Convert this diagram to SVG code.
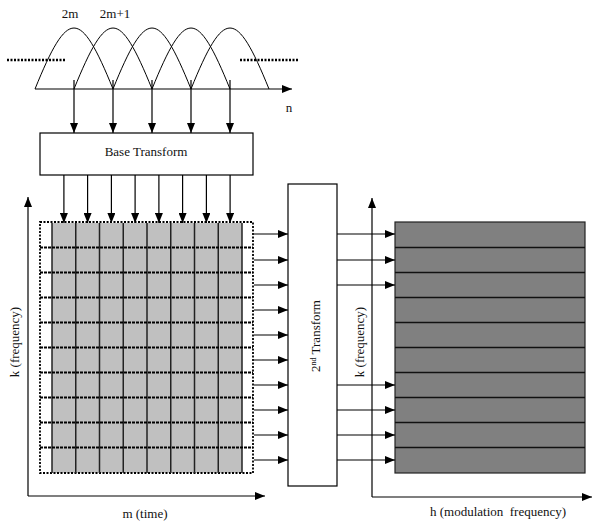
<svg xmlns="http://www.w3.org/2000/svg" width="594" height="521" viewBox="0 0 594 521">
<defs>
<marker id="ah" markerUnits="userSpaceOnUse" markerWidth="10" markerHeight="8" refX="10" refY="4" orient="auto">
<path d="M0,0 L10,4 L0,8 z" fill="#000"/>
</marker>
<style>
.t{font-family:"Liberation Serif","Times New Roman",serif;font-size:13px;fill:#111}
.ln{stroke:#000;stroke-width:1.2;fill:none}
.ar{stroke:#000;stroke-width:1.2;fill:none;marker-end:url(#ah)}
.arch{stroke:#000;stroke-width:1;fill:none}
.dot{stroke:#000;stroke-width:2.4;stroke-dasharray:2 1.5;fill:none}
.hl{stroke:#000;stroke-width:2.2;stroke-dasharray:3 1;fill:none}
.vl{stroke:#222;stroke-width:1.5}
.dl{stroke:#111;stroke-width:1.6}
</style>
</defs>
<rect width="594" height="521" fill="#fff"/>

<g id="signal">
<path class="arch" d="M35,89 C68,7.7 80,7.7 113,89"/>
<path class="arch" d="M74,89 C107,7.7 119,7.7 152,89"/>
<path class="arch" d="M113,89 C146,7.7 158,7.7 191,89"/>
<path class="arch" d="M152,89 C185,7.7 197,7.7 230,89"/>
<path class="arch" d="M191,89 C224,7.7 236,7.7 269,89"/>
<line class="dot" x1="7" y1="60" x2="66" y2="60"/>
<line class="dot" x1="240" y1="60" x2="298" y2="60"/>
<line class="ar" x1="35" y1="89" x2="292" y2="89"/>
<text class="t" x="70" y="18" text-anchor="middle">2m</text>
<text class="t" x="115" y="18" text-anchor="middle">2m+1</text>
<text class="t" x="289" y="112" text-anchor="middle">n</text>
</g>

<g id="base-transform">
<rect x="40" y="133" width="213" height="42" fill="#fff" stroke="#000" stroke-width="1.2"/>
<text class="t" x="146" y="156" text-anchor="middle">Base Transform</text>
</g>

<g id="grid">
<rect x="52" y="223" width="190" height="250" fill="#c0c0c0"/>
<rect x="40" y="222" width="213" height="251" fill="none" stroke="#000" stroke-width="1.8" stroke-dasharray="2 1.5"/>
<line class="vl" x1="52" y1="223" x2="52" y2="473"/>
<line class="vl" x1="75.75" y1="223" x2="75.75" y2="473"/>
<line class="vl" x1="99.5" y1="223" x2="99.5" y2="473"/>
<line class="vl" x1="123.25" y1="223" x2="123.25" y2="473"/>
<line class="vl" x1="147" y1="223" x2="147" y2="473"/>
<line class="vl" x1="170.75" y1="223" x2="170.75" y2="473"/>
<line class="vl" x1="194.5" y1="223" x2="194.5" y2="473"/>
<line class="vl" x1="218.25" y1="223" x2="218.25" y2="473"/>
<line class="vl" x1="242" y1="223" x2="242" y2="473"/>
<line class="hl" x1="40" y1="247.5" x2="253" y2="247.5"/>
<line class="hl" x1="40" y1="272.5" x2="253" y2="272.5"/>
<line class="hl" x1="40" y1="297.5" x2="253" y2="297.5"/>
<line class="hl" x1="40" y1="322.5" x2="253" y2="322.5"/>
<line class="hl" x1="40" y1="347.5" x2="253" y2="347.5"/>
<line class="hl" x1="40" y1="372.5" x2="253" y2="372.5"/>
<line class="hl" x1="40" y1="397.5" x2="253" y2="397.5"/>
<line class="hl" x1="40" y1="422.5" x2="253" y2="422.5"/>
<line class="hl" x1="40" y1="447.5" x2="253" y2="447.5"/>
</g>

<g id="axes-left">
<line class="ar" x1="28" y1="496" x2="28" y2="197"/>
<line class="ar" x1="28" y1="496" x2="265" y2="496"/>
<text class="t" x="145" y="518" text-anchor="middle">m (time)</text>
<text class="t" transform="translate(19,342) rotate(-90)" text-anchor="middle">k (frequency)</text>
</g>

<g id="second-transform">
<rect x="288" y="184" width="49" height="302" fill="#fff" stroke="#000" stroke-width="1.2"/>
<text class="t" transform="translate(320,336) rotate(-90)" text-anchor="middle">2<tspan font-size="8" dy="-4">nd</tspan><tspan dy="4"> Transform</tspan></text>
</g>

<g id="output">
<rect x="395" y="222" width="190" height="251" fill="#808080" stroke="#222" stroke-width="1.2"/>
<line class="dl" x1="395" y1="247.5" x2="585" y2="247.5"/>
<line class="dl" x1="395" y1="272.5" x2="585" y2="272.5"/>
<line class="dl" x1="395" y1="297.5" x2="585" y2="297.5"/>
<line class="dl" x1="395" y1="322.5" x2="585" y2="322.5"/>
<line class="dl" x1="395" y1="347.5" x2="585" y2="347.5"/>
<line class="dl" x1="395" y1="372.5" x2="585" y2="372.5"/>
<line class="dl" x1="395" y1="397.5" x2="585" y2="397.5"/>
<line class="dl" x1="395" y1="422.5" x2="585" y2="422.5"/>
<line class="dl" x1="395" y1="447.5" x2="585" y2="447.5"/>
</g>

<g id="axes-right">
<line class="ar" x1="372" y1="497" x2="372" y2="198"/>
<line class="ar" x1="372" y1="497" x2="592" y2="497"/>
<text class="t" x="498" y="516" text-anchor="middle" xml:space="preserve">h (modulation  frequency)</text>
<text class="t" transform="translate(364,342) rotate(-90)" text-anchor="middle">k (frequency)</text>
</g>

<g id="connectors">
<line class="ar" x1="74" y1="80" x2="74" y2="133"/>
<line class="ar" x1="113" y1="80" x2="113" y2="133"/>
<line class="ar" x1="152" y1="80" x2="152" y2="133"/>
<line class="ar" x1="191" y1="80" x2="191" y2="133"/>
<line class="ar" x1="230" y1="80" x2="230" y2="133"/>

<line class="ar" x1="63.9" y1="175" x2="63.9" y2="223"/>
<line class="ar" x1="87.6" y1="175" x2="87.6" y2="223"/>
<line class="ar" x1="111.4" y1="175" x2="111.4" y2="223"/>
<line class="ar" x1="135.1" y1="175" x2="135.1" y2="223"/>
<line class="ar" x1="158.9" y1="175" x2="158.9" y2="223"/>
<line class="ar" x1="182.6" y1="175" x2="182.6" y2="223"/>
<line class="ar" x1="206.4" y1="175" x2="206.4" y2="223"/>
<line class="ar" x1="230.1" y1="175" x2="230.1" y2="223"/>

<line class="ar" x1="254" y1="234" x2="288" y2="234"/>
<line class="ar" x1="254" y1="260" x2="288" y2="260"/>
<line class="ar" x1="254" y1="285" x2="288" y2="285"/>
<line class="ar" x1="254" y1="310" x2="288" y2="310"/>
<line class="ar" x1="254" y1="335" x2="288" y2="335"/>
<line class="ar" x1="254" y1="360" x2="288" y2="360"/>
<line class="ar" x1="254" y1="385" x2="288" y2="385"/>
<line class="ar" x1="254" y1="410" x2="288" y2="410"/>
<line class="ar" x1="254" y1="435" x2="288" y2="435"/>
<line class="ar" x1="254" y1="460" x2="288" y2="460"/>

<line class="ar" x1="337" y1="234" x2="395" y2="234"/>
<line class="ar" x1="337" y1="260" x2="395" y2="260"/>
<line class="ar" x1="337" y1="285" x2="395" y2="285"/>
<line class="ar" x1="337" y1="385" x2="395" y2="385"/>
<line class="ar" x1="337" y1="410" x2="395" y2="410"/>
<line class="ar" x1="337" y1="435" x2="395" y2="435"/>
<line class="ar" x1="337" y1="460" x2="395" y2="460"/>
</g>
</svg>
